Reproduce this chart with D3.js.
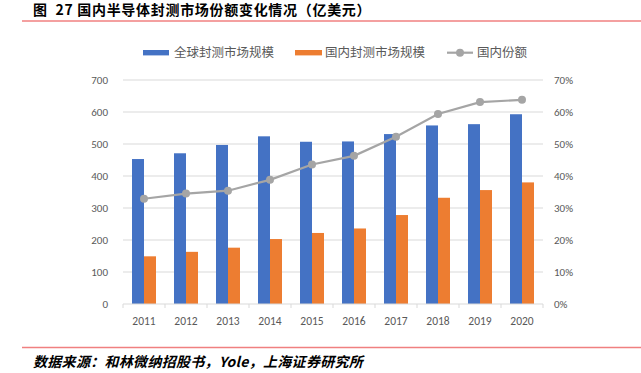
<!DOCTYPE html>
<html>
<head>
<meta charset="utf-8">
<script src="https://cdn.jsdelivr.net/npm/d3@7"></script>
<style>
  body { margin: 0; background: #fff; }
  svg { display: block; }
</style>
</head>
<body>
<svg id="chart" width="641" height="373"></svg>
<script>
// data
const years = ['2011', '2012', '2013', '2014', '2015', '2016', '2017', '2018', '2019', '2020'];
const globalSize = [453, 471, 497, 524, 507, 508, 531, 558, 562, 593];
const domesticSize = [149, 163, 176, 203, 222, 236, 278, 332, 356, 380];
const domesticShare = [0.329, 0.345, 0.354, 0.388, 0.436, 0.463, 0.523, 0.594, 0.631, 0.638];
const leftTicks = [0, 100, 200, 300, 400, 500, 600, 700];
const rightTicks = [0, 0.1, 0.2, 0.3, 0.4, 0.5, 0.6, 0.7];

const seriesNames = ['全球封测市场规模', '国内封测市场规模', '国内份额'];
const blue = '#4472c4';
const orange = '#ed7d31';
const grey = '#a5a5a5';
const tickColor = '#595959';
const cjk = '"Noto Sans CJK SC", "Microsoft YaHei", sans-serif';
const latin = 'Calibri, Carlito, "Liberation Sans", sans-serif';

const svg = d3.select('#chart');

let plot = { left: 123, right: 543, top: 80, bottom: 304 };

let x = d3.scaleBand()
  .domain(years)
  .range([plot.left, plot.right]);

let y = d3.scaleLinear()
  .domain([0, 700])
  .range([plot.bottom, plot.top]);

let y2 = d3.scaleLinear()
  .domain([0, 0.7])
  .range([plot.bottom, plot.top]);

drawHeader();
drawGrid();
drawBars();
drawLine();
drawAxes();
drawLegend();
drawFooter();

function drawHeader() {
  svg.append('text')
    .attr('x', 33)
    .attr('y', 15)
    .attr('font-family', cjk)
    .attr('font-weight', 'bold')
    .attr('font-size', 14)
    .attr('letter-spacing', 0.7)
    .attr('fill', '#000')
    .attr('xml:space', 'preserve')
    .text('图  27 国内半导体封测市场份额变化情况（亿美元）');

  svg.append('line')
    .attr('x1', 22).attr('x2', 641)
    .attr('y1', 21).attr('y2', 21)
    .attr('stroke', '#f08080')
    .attr('stroke-width', 1.5);
}

function drawGrid() {
  svg.append('g')
    .selectAll('line')
    .data(leftTicks.filter(d => d > 0))
    .enter().append('line')
      .attr('x1', plot.left).attr('x2', plot.right)
      .attr('y1', d => y(d)).attr('y2', d => y(d))
      .attr('stroke', '#d9d9d9')
      .attr('stroke-width', 1);
}

function drawBars() {
  // two bars per year, side by side, centred in the band
  const barW = 12;
  const g = svg.append('g');

  g.selectAll('.global').data(years).enter()
    .append('rect')
      .attr('class', 'global')
      .attr('x', d => x(d) + x.bandwidth() / 2 - barW)
      .attr('width', barW)
      .attr('y', (d, i) => y(globalSize[i]))
      .attr('height', (d, i) => y(0) - y(globalSize[i]))
      .attr('fill', blue);

  g.selectAll('.domestic').data(years).enter()
    .append('rect')
      .attr('class', 'domestic')
      .attr('x', d => x(d) + x.bandwidth() / 2)
      .attr('width', barW)
      .attr('y', (d, i) => y(domesticSize[i]))
      .attr('height', (d, i) => y(0) - y(domesticSize[i]))
      .attr('fill', orange);
}

function drawLine() {
  const cx = d => x(d) + x.bandwidth() / 2;
  const line = d3.line()
    .x(d => cx(d))
    .y((d, i) => y2(domesticShare[i]));

  svg.append('path')
    .datum(years)
    .attr('d', line)
    .attr('fill', 'none')
    .attr('stroke', grey)
    .attr('stroke-width', 2.2);

  svg.append('g')
    .selectAll('circle')
    .data(years).enter()
    .append('circle')
      .attr('cx', d => cx(d))
      .attr('cy', (d, i) => y2(domesticShare[i]))
      .attr('r', 4)
      .attr('fill', grey);
}

function drawAxes() {
  // bottom axis: line + ticks at band edges
  const axis = svg.append('g');
  axis.append('line')
    .attr('x1', plot.left).attr('x2', plot.right)
    .attr('y1', plot.bottom).attr('y2', plot.bottom)
    .attr('stroke', '#d9d9d9');

  axis.selectAll('.sep')
    .data(years.concat(['end']))
    .enter().append('line')
      .attr('x1', (d, i) => i < years.length ? x(d) : plot.right)
      .attr('x2', (d, i) => i < years.length ? x(d) : plot.right)
      .attr('y1', plot.bottom).attr('y2', plot.bottom + 4)
      .attr('stroke', '#d9d9d9');

  axis.selectAll('.xlabel')
    .data(years).enter()
    .append('text')
      .attr('x', d => x(d) + x.bandwidth() / 2)
      .attr('y', 325)
      .attr('text-anchor', 'middle')
      .attr('font-family', latin)
      .attr('font-size', 11.5)
      .attr('fill', tickColor)
      .text(d => d);

  svg.append('g').selectAll('text')
    .data(leftTicks).enter()
    .append('text')
      .attr('x', 108)
      .attr('y', d => y(d) + 4)
      .attr('text-anchor', 'end')
      .attr('font-family', latin)
      .attr('font-size', 11)
      .attr('fill', tickColor)
      .text(d => d);

  svg.append('g').selectAll('text')
    .data(rightTicks).enter()
    .append('text')
      .attr('x', 554)
      .attr('y', d => y2(d) + 4)
      .attr('font-family', latin)
      .attr('font-size', 11)
      .attr('fill', tickColor)
      .text(d => d3.format('.0%')(d));
}

function drawLegend() {
  const g = svg.append('g');
  const ly = 52.7;

  g.append('rect').attr('x', 143).attr('y', ly - 2.7).attr('width', 26).attr('height', 5.4).attr('fill', blue);
  g.append('rect').attr('x', 295).attr('y', ly - 2.7).attr('width', 27).attr('height', 5.4).attr('fill', orange);
  g.append('line').attr('x1', 447).attr('x2', 473).attr('y1', ly).attr('y2', ly)
    .attr('stroke', grey).attr('stroke-width', 2.2);
  g.append('circle').attr('cx', 460).attr('cy', ly).attr('r', 4).attr('fill', grey);

  const textX = [174, 325, 477];
  g.selectAll('text')
    .data(seriesNames).enter()
    .append('text')
      .attr('x', (d, i) => textX[i])
      .attr('y', ly + 4.5)
      .attr('font-family', cjk)
      .attr('font-size', 12.5)
      .attr('fill', tickColor)
      .text(d => d);
}

function drawFooter() {
  svg.append('line')
    .attr('x1', 22).attr('x2', 641)
    .attr('y1', 347.5).attr('y2', 347.5)
    .attr('stroke', '#f08080')
    .attr('stroke-width', 1.5);

  svg.append('text')
    .attr('x', 33)
    .attr('y', 367)
    .attr('font-family', cjk)
    .attr('font-weight', 'bold')
    .attr('font-style', 'italic')
    .attr('font-size', 14)
    .attr('letter-spacing', 0.3)
    .attr('fill', '#000')
    .text('数据来源：和林微纳招股书，Yole，上海证券研究所');
}
</script>
</body>
</html>
